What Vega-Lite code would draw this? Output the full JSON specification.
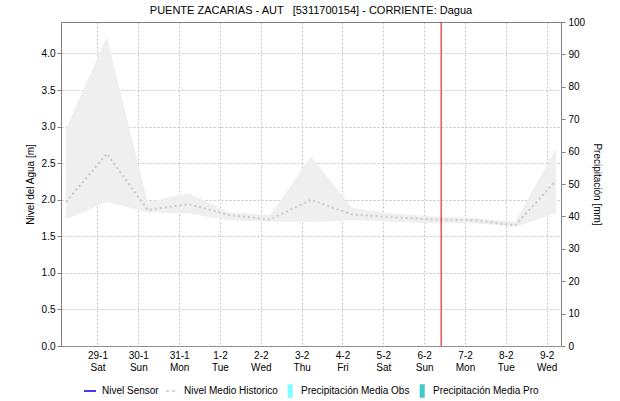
{
  "$schema": "https://vega.github.io/schema/vega-lite/v6.json",
  "autosize": {"type": "none"},
  "width": 500,
  "height": 324,
  "padding": {"left": 61, "top": 22, "right": 59, "bottom": 55},
  "title": {"text": "PUENTE ZACARIAS - AUT \u00a0\u00a0[5311700154] - CORRIENTE: Dagua", "fontSize": 11, "fontWeight": "normal", "font": "Liberation Sans", "color": "#000000", "offset": 1, "anchor": "middle"},
  "config": {
    "font": "Liberation Sans",
    "view": {"stroke": null},
    "axis": {"labelFontSize": 10, "labelColor": "#000000", "labelFont": "Liberation Sans", "titleFont": "Liberation Sans", "titleFontSize": 10, "titleFontWeight": "normal", "titleColor": "#000000", "domainColor": "#808080", "tickColor": "#808080", "gridColor": "#c4c4c4", "gridDash": [2, 2]},
    "legend": {"labelFontSize": 10, "labelColor": "#000000", "labelFont": "Liberation Sans", "symbolSize": 144, "padding": 0}
  },
  "datasets": {
    "nivel": [
      {"fecha": "2022-01-28T05:30:00Z", "min": 1.73, "max": 2.97, "media": 1.97, "precip": 0},
      {"fecha": "2022-01-29T05:30:00Z", "min": 1.97, "max": 4.23, "media": 2.63, "precip": 0},
      {"fecha": "2022-01-30T05:30:00Z", "min": 1.83, "max": 1.97, "media": 1.86, "precip": 0},
      {"fecha": "2022-01-31T05:30:00Z", "min": 1.81, "max": 2.09, "media": 1.94, "precip": 0},
      {"fecha": "2022-02-01T05:30:00Z", "min": 1.72, "max": 1.83, "media": 1.79, "precip": 0},
      {"fecha": "2022-02-02T05:30:00Z", "min": 1.70, "max": 1.79, "media": 1.73, "precip": 0},
      {"fecha": "2022-02-03T05:30:00Z", "min": 1.70, "max": 2.59, "media": 2.00, "precip": 0},
      {"fecha": "2022-02-04T05:30:00Z", "min": 1.72, "max": 1.89, "media": 1.80, "precip": 0},
      {"fecha": "2022-02-05T05:30:00Z", "min": 1.70, "max": 1.81, "media": 1.76, "precip": 0},
      {"fecha": "2022-02-06T05:30:00Z", "min": 1.68, "max": 1.77, "media": 1.73, "precip": 0},
      {"fecha": "2022-02-07T05:30:00Z", "min": 1.68, "max": 1.75, "media": 1.72, "precip": 0},
      {"fecha": "2022-02-08T05:30:00Z", "min": 1.63, "max": 1.70, "media": 1.65, "precip": 0},
      {"fecha": "2022-02-09T05:30:00Z", "min": 1.81, "max": 2.70, "media": 2.26, "precip": 0}
    ],
    "ahora": [{"fecha": "2022-02-06T10:00:00Z"}]
  },
  "layer": [
    {
      "data": {"name": "nivel"},
      "layer": [
        {
          "mark": {"type": "area", "fill": "#efefef", "opacity": 1},
          "encoding": {
            "x": {"field": "fecha", "type": "temporal", "scale": {"type": "utc", "domain": [{"year": 2022, "month": 1, "date": 28, "hours": 5, "minutes": 30, "utc": true}, {"year": 2022, "month": 2, "date": 9, "hours": 5, "minutes": 30, "utc": true}]},
              "axis": {"orient": "bottom", "title": null, "grid": true, "ticks": false, "labelPadding": 4, "labelLineHeight": 12, "domainColor": "#404040", "domainDash": [1, 1],
                "values": [
                  {"year": 2022, "month": 1, "date": 29, "utc": true},
                  {"year": 2022, "month": 1, "date": 30, "utc": true},
                  {"year": 2022, "month": 1, "date": 31, "utc": true},
                  {"year": 2022, "month": 2, "date": 1, "utc": true},
                  {"year": 2022, "month": 2, "date": 2, "utc": true},
                  {"year": 2022, "month": 2, "date": 3, "utc": true},
                  {"year": 2022, "month": 2, "date": 4, "utc": true},
                  {"year": 2022, "month": 2, "date": 5, "utc": true},
                  {"year": 2022, "month": 2, "date": 6, "utc": true},
                  {"year": 2022, "month": 2, "date": 7, "utc": true},
                  {"year": 2022, "month": 2, "date": 8, "utc": true},
                  {"year": 2022, "month": 2, "date": 9, "utc": true}
                ],
                "labelExpr": "[utcFormat(datum.value, '%-d-%-m'), utcFormat(datum.value, '%a')]"}},
            "y": {"field": "min", "type": "quantitative", "scale": {"domain": [0, 4.43], "nice": false, "zero": false},
              "axis": {"orient": "left", "title": "Nivel del Agua [m]", "values": [0, 0.5, 1, 1.5, 2, 2.5, 3, 3.5, 4], "format": ".1f", "grid": true, "tickSize": 4, "labelPadding": 2, "titlePadding": 6}},
            "y2": {"field": "max"}
          }
        },
        {
          "mark": {"type": "line", "strokeDash": [2, 3], "strokeWidth": 2},
          "encoding": {
            "x": {"field": "fecha", "type": "temporal"},
            "y": {"field": "media", "type": "quantitative"},
            "color": {"datum": "Nivel Medio Historico", "type": "nominal",
              "scale": {"domain": ["Nivel Sensor", "Nivel Medio Historico", "Precipitación Media Obs", "Precipitación Media Pro"], "range": ["#0000dd", "#c8c8c8", "#80ffff", "#44c8c8"]},
              "legend": {"title": null, "orient": "none", "legendX": 22, "legendY": 362, "direction": "horizontal", "columns": 4, "columnPadding": 4, "labelOffset": 5, "gridAlign": "none",
                "encode": {"symbols": {"update": {
                  "shape": {"signal": "(datum.value == 'Nivel Sensor' || datum.value == 'Nivel Medio Historico') ? 'stroke' : 'M-0.1,-1H0.5V1H-0.1Z'"},
                  "fill": {"signal": "(datum.value == 'Nivel Sensor' || datum.value == 'Nivel Medio Historico') ? 'transparent' : scale('color', datum.value)"},
                  "stroke": {"signal": "(datum.value == 'Nivel Sensor' || datum.value == 'Nivel Medio Historico') ? scale('color', datum.value) : 'transparent'"},
                  "strokeDash": {"signal": "datum.value == 'Nivel Medio Historico' ? [3, 3] : [1, 0]"},
                  "strokeWidth": {"value": 1.5},
                  "opacity": {"value": 1}
                }}}}
            }
          }
        }
      ]
    },
    {
      "data": {"name": "nivel"},
      "mark": {"type": "bar", "fill": "#80ffff"},
      "encoding": {
        "x": {"field": "fecha", "type": "temporal", "axis": {"orient": "top", "title": null, "labels": false, "ticks": false, "grid": false, "domainColor": "#808080"}},
        "y": {"field": "precip", "type": "quantitative", "scale": {"domain": [0, 100], "nice": false},
          "axis": {"orient": "right", "title": "Precipitación [mm]", "titleAngle": 90, "values": [0, 10, 20, 30, 40, 50, 60, 70, 80, 90, 100], "grid": false, "tickSize": 4, "labelPadding": 3, "titlePadding": 7}}
      }
    },
    {
      "data": {"name": "ahora"},
      "mark": {"type": "rule", "color": "#e03030", "strokeWidth": 1.2},
      "encoding": {
        "x": {"field": "fecha", "type": "temporal", "axis": null}
      }
    }
  ],
  "resolve": {"scale": {"y": "independent"}, "axis": {"x": "independent"}}
}
